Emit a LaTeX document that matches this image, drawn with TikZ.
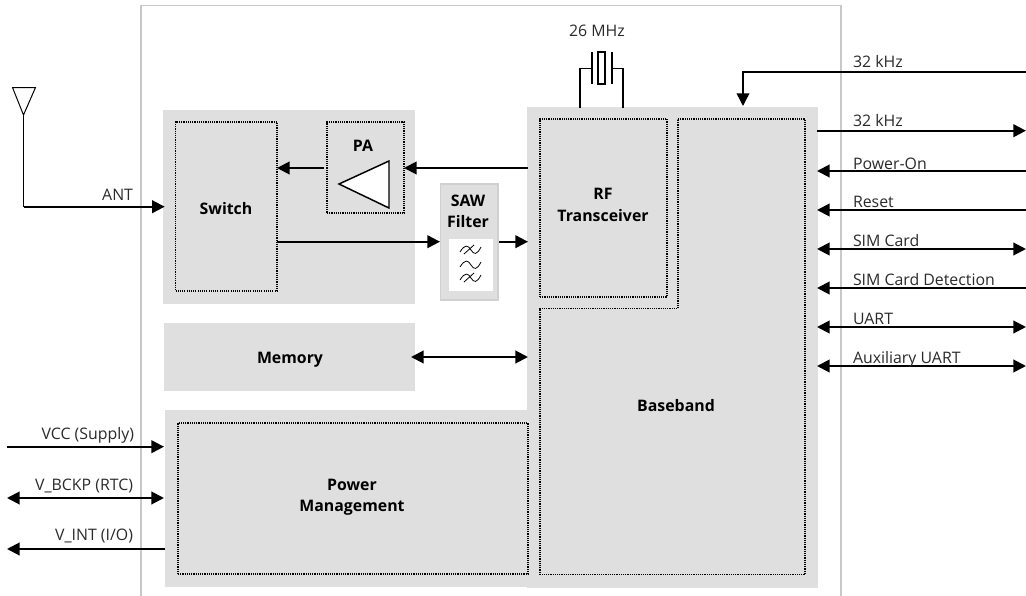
\documentclass[tikz,border=0pt]{standalone}
\usepackage{fontspec}
\setmainfont{Open Sans}
\usetikzlibrary{arrows.meta}
\definecolor{blockgray}{HTML}{DFDFDF}
\definecolor{framegray}{HTML}{C8C8C8}
\definecolor{sawedge}{HTML}{D0D0D0}
\definecolor{labelgray}{HTML}{2A2A2A}
\newcommand{\blk}[6]{% name x1 y1 x2 y2 style
  \pgfmathsetmacro{\bw}{(#4-#2)*0.75}\pgfmathsetmacro{\bh}{(#5-#3)*0.75}
  \node[#6,minimum width=\bw pt,minimum height=\bh pt,anchor=north west] (#1) at (#2,#3) {};}
\tikzset{
  x=0.75pt,y=-0.75pt,
  greyblock/.style={fill=blockgray,draw=none,inner sep=0pt,outer sep=0pt},
  dotbox/.style={draw=black,line width=0.85pt,dash pattern=on 0.85pt off 0.8pt,inner sep=0pt,outer sep=0pt},
  conn/.style={line width=1.5pt,black},
  thinwire/.style={line width=1.1pt,black},
  onehead/.style={conn,-{Triangle[length=9.5pt,width=9.5pt]}},
  twohead/.style={conn,{Triangle[length=9.5pt,width=9.5pt]}-{Triangle[length=9.5pt,width=9.5pt]}},
  thinhead/.style={thinwire,-{Triangle[length=9.5pt,width=9.5pt]}},
  lbl/.style={font=\fontsize{11.9}{14}\selectfont,text=labelgray,inner sep=0pt,outer sep=0pt},
  ttl/.style={font=\fontsize{11.9}{16}\selectfont\bfseries,text=black,inner sep=0pt,align=center},
}
\begin{document}
\begin{tikzpicture}
\useasboundingbox (0,0) rectangle (1026,596);
% module frame
\coordinate (fbl) at (141,596);\coordinate (ftl) at (141,5.5);\coordinate (ftr) at (841,5.5);\coordinate (fbr) at (841,596);
\draw[framegray,line width=0.8pt] (fbl) -- (ftl) -- (ftr) -- (fbr);
% grey blocks
\blk{rfgrey}{163}{110}{415}{304}{greyblock}
\blk{memory}{164}{323}{415}{391}{greyblock}
\blk{pmgrey}{165}{410}{528}{587}{greyblock}
\blk{soc}{527}{107}{818}{588}{greyblock}
\blk{saw}{440.5}{184}{498}{300}{greyblock,draw=sawedge,line width=0.8pt}
\blk{sawwin}{449}{239}{493}{291}{fill=white,inner sep=0pt,outer sep=0pt}
% dotted blocks
\blk{switch}{175.5}{122}{277}{291}{dotbox}
\blk{pa}{327}{122}{404}{213}{dotbox}
\blk{rf}{540}{119}{667}{297}{dotbox}
\blk{pm}{178}{423}{528}{574}{dotbox}
\draw[dotbox] (678,119) -- (805,119) -- (805,574.5) -- (540,574.5) -- (540,308.5) -- (678,308.5) -- cycle;
% titles
\node[ttl] (tswitch) at (226,209) {Switch};
\node[ttl] (tpa) at (363,146) {PA};
\node[ttl] (tsaw) at (468,211) {SAW\\Filter};
\node[ttl] (trf) at (603,205) {RF\\Transceiver};
\node[ttl] (tmem) at (290,359.5) {Memory};
\node[ttl] (tpm) at (352,497) {Power\\Management};
\node[ttl] (tbb) at (676,406) {Baseband};
% PA triangle
\draw[thinwire,fill=white,line join=miter] (339,184) -- (389,161) -- (389,208) -- cycle;
% filter symbols
\foreach \yy in {250,265,278}{
  \draw[line width=0.6pt] (460,\yy+2) .. controls (465,\yy-6) and (468,\yy-5) .. (471,\yy) .. controls (474,\yy+5) and (477,\yy+5) .. (481,\yy-3);}
\foreach \yy in {250,278}{
  \draw[line width=0.6pt] (464,\yy+4) -- (474,\yy-5);}
% antenna
\coordinate (anta) at (12.5,87.5);\coordinate (antb) at (35.5,87.5);\coordinate (antc) at (23.5,115);\coordinate (antd) at (23.5,206.7);
\draw[line width=0.75pt,fill=white] (anta) -- (antb) -- (antc) -- cycle;
\draw[thinwire] (antc) -- (antd);
\coordinate (anttip) at (164.7,206.7);
\draw[onehead] (antd) -- (anttip);
\node[lbl,anchor=base east] (lant) at (133,200) {ANT};
% crystal
\coordinate (xl0) at (580,108);\coordinate (xl1) at (580,68.5);\coordinate (xl2) at (592,68.5);
\coordinate (xr0) at (623,108);\coordinate (xr1) at (623,68.5);\coordinate (xr2) at (612,68.5);
\coordinate (pl1) at (592,52);\coordinate (pl2) at (592,84);\coordinate (pr1) at (612,52);\coordinate (pr2) at (612,84);
\draw[thinwire] (xl0) -- (xl1) -- (xl2);
\draw[thinwire] (xr0) -- (xr1) -- (xr2);
\draw[thinwire] (pl1) -- (pl2);
\draw[thinwire] (pr1) -- (pr2);
\draw[thinwire] (598,52) rectangle (605,84);
\node[lbl] (lxtal) at (597,31) {26 MHz};
% internal connectors
\coordinate (a1) at (324,168);\coordinate (a1t) at (277,168);
\draw[onehead] (a1) -- (a1t);
\coordinate (a2) at (528,168);\coordinate (a2t) at (404,168);
\draw[onehead] (a2) -- (a2t);
\coordinate (a3) at (277,241.7);\coordinate (a3t) at (440,241.7);
\draw[onehead] (a3) -- (a3t);
\coordinate (a4) at (499,241.7);\coordinate (a4t) at (528,241.7);
\draw[onehead] (a4) -- (a4t);
\coordinate (a5) at (411,357);\coordinate (a5t) at (528,357);
\draw[twohead] (a5) -- (a5t);
% left pins
\coordinate (v1) at (7,446.7);\coordinate (v1t) at (164,446.7);
\draw[onehead] (v1) -- (v1t);
\node[lbl,anchor=base east] (lv1) at (134,439) {VCC (Supply)};
\coordinate (v2) at (7,498);\coordinate (v2t) at (164,498);
\draw[twohead] (v2) -- (v2t);
\node[lbl,anchor=base east] (lv2) at (133,490) {V\_BCKP (RTC)};
\coordinate (v3) at (165,549);\coordinate (v3t) at (7,549);
\draw[onehead] (v3) -- (v3t);
\node[lbl,anchor=base east] (lv3) at (133,540) {V\_INT (I/O)};
% right pins
\coordinate (r0) at (1026,72);\coordinate (r0c) at (743,72);\coordinate (r0t) at (743,106);
\draw[thinhead,line join=miter] (r0) -- (r0c) -- (r0t);
\node[lbl,anchor=base west] (lr0) at (853,67) {32 kHz};
\coordinate (r1) at (817,130.7);\coordinate (r1t) at (1026,130.7);
\draw[onehead] (r1) -- (r1t);
\node[lbl,anchor=base west] (lr1) at (853,126) {32 kHz};
\coordinate (r2) at (1026,171);\coordinate (r2t) at (817,171);
\draw[onehead] (r2) -- (r2t);
\node[lbl,anchor=base west] (lr2) at (853,169) {Power-On};
\coordinate (r3) at (1026,210);\coordinate (r3t) at (817,210);
\draw[onehead] (r3) -- (r3t);
\node[lbl,anchor=base west] (lr3) at (853,207) {Reset};
\coordinate (r4) at (817,249);\coordinate (r4t) at (1026,249);
\draw[twohead] (r4) -- (r4t);
\node[lbl,anchor=base west] (lr4) at (853,246) {SIM Card};
\coordinate (r5) at (1026,288);\coordinate (r5t) at (817,288);
\draw[onehead] (r5) -- (r5t);
\node[lbl,anchor=base west] (lr5) at (853,285) {SIM Card Detection};
\coordinate (r6) at (817,327);\coordinate (r6t) at (1026,327);
\draw[twohead] (r6) -- (r6t);
\node[lbl,anchor=base west] (lr6) at (853,324) {UART};
\coordinate (r7) at (817,366);\coordinate (r7t) at (1026,366);
\draw[twohead] (r7) -- (r7t);
\node[lbl,anchor=base west] (lr7) at (853,363) {Auxiliary UART};
\end{tikzpicture}
\end{document}
